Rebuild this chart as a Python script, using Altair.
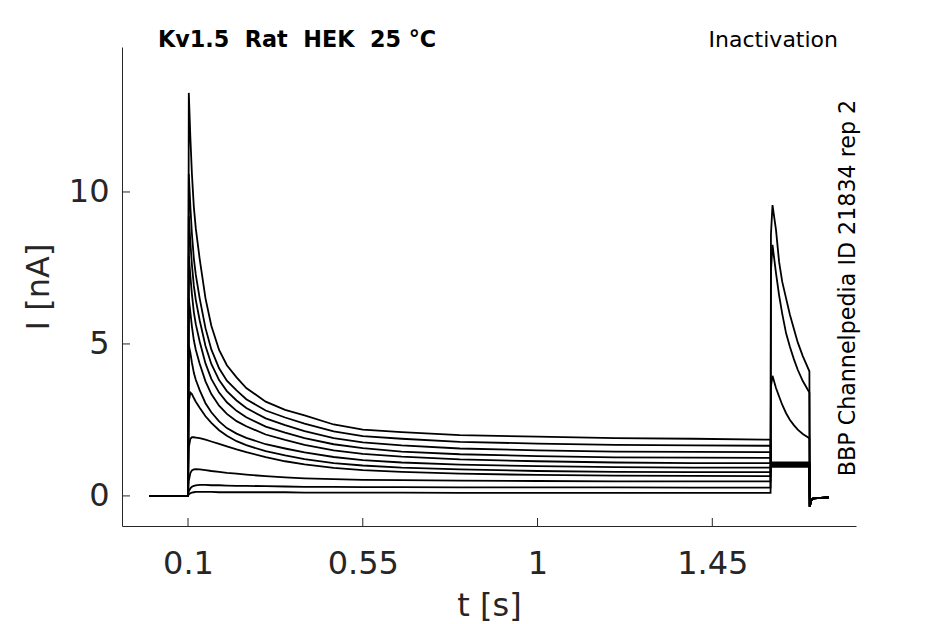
import altair as alt
import pandas as pd

# ---------------- data ----------------
trace_names = ["T0", "T1", "T2", "T3", "T4", "T5", "T6", "T7", "T8", "T9", "T10"]

t_base = [0.0, 0.1]
base_vals = [0.0, 0.0]

t_pulse1 = [0.102, 0.106, 0.11, 0.115, 0.12, 0.13, 0.145, 0.16, 0.18, 0.2, 0.225,
            0.25, 0.3, 0.35, 0.4, 0.475, 0.55, 0.65, 0.8, 1.0, 1.2, 1.4, 1.6]

pulse1 = {
    "T10": [13.26, 11.8, 10.6, 9.5, 8.8, 7.8, 6.5, 5.6, 4.8, 4.3, 3.9, 3.55, 3.1, 2.83, 2.65, 2.35, 2.18, 2.1, 2.0, 1.95, 1.9, 1.88, 1.85],
    "T9": [10.6, 9.53, 8.63, 7.81, 7.28, 6.5, 5.52, 4.82, 4.2, 3.79, 3.47, 3.18, 2.81, 2.58, 2.38, 2.12, 1.97, 1.88, 1.78, 1.72, 1.68, 1.66, 1.65],
    "T8": [9.2, 8.35, 7.61, 6.91, 6.45, 5.78, 4.93, 4.34, 3.81, 3.45, 3.14, 2.89, 2.55, 2.33, 2.13, 1.9, 1.76, 1.66, 1.56, 1.5, 1.46, 1.45, 1.44],
    "T7": [7.9, 7.24, 6.64, 6.04, 5.65, 5.08, 4.36, 3.85, 3.4, 3.08, 2.8, 2.59, 2.28, 2.08, 1.9, 1.7, 1.57, 1.46, 1.37, 1.31, 1.27, 1.26, 1.25],
    "T6": [6.5, 6.05, 5.58, 5.12, 4.81, 4.35, 3.77, 3.35, 2.97, 2.7, 2.46, 2.29, 2.02, 1.84, 1.68, 1.5, 1.38, 1.29, 1.2, 1.14, 1.1, 1.08, 1.08],
    "T5": [4.95, 4.71, 4.39, 4.05, 3.82, 3.48, 3.05, 2.75, 2.45, 2.23, 2.05, 1.91, 1.7, 1.56, 1.43, 1.28, 1.18, 1.1, 1.03, 0.98, 0.95, 0.93, 0.93],
    "T4": [3.1, 3.4, 3.35, 3.22, 3.1, 2.9, 2.62, 2.4, 2.16, 1.98, 1.8, 1.67, 1.47, 1.33, 1.21, 1.08, 1.0, 0.93, 0.87, 0.82, 0.79, 0.78, 0.78],
    "T3": [1.6, 1.88, 1.93, 1.93, 1.92, 1.9, 1.85, 1.79, 1.71, 1.63, 1.53, 1.44, 1.28, 1.14, 1.04, 0.92, 0.85, 0.79, 0.73, 0.69, 0.67, 0.66, 0.65],
    "T2": [0.5, 0.75, 0.84, 0.87, 0.88, 0.87, 0.85, 0.82, 0.79, 0.76, 0.73, 0.7, 0.65, 0.61, 0.58, 0.55, 0.53, 0.52, 0.5, 0.49, 0.48, 0.48, 0.48],
    "T1": [0.15, 0.25, 0.3, 0.33, 0.35, 0.36, 0.36, 0.35, 0.35, 0.34, 0.33, 0.33, 0.32, 0.31, 0.3, 0.3, 0.29, 0.29, 0.28, 0.28, 0.28, 0.27, 0.27],
    "T0": [0.05, 0.09, 0.11, 0.12, 0.13, 0.13, 0.13, 0.13, 0.12, 0.12, 0.12, 0.12, 0.12, 0.12, 0.11, 0.11, 0.11, 0.11, 0.1, 0.1, 0.1, 0.1, 0.1],
}

t_pulse2 = [1.601, 1.605, 1.614, 1.622, 1.63, 1.64, 1.65, 1.66, 1.67, 1.683, 1.7]

pulse2 = {
    "T0": [8.6, 9.57, 8.75, 7.7, 7.05, 6.5, 5.95, 5.5, 5.05, 4.6, 4.1],
    "T1": [7.4, 8.26, 7.33, 6.6, 6.0, 5.35, 4.9, 4.5, 4.15, 3.78, 3.4],
    "T2": [3.6, 3.95, 3.55, 3.27, 3.0, 2.72, 2.5, 2.33, 2.18, 2.04, 1.9],
    "T3": [1.1, 1.1, 1.1, 1.1, 1.1, 1.1, 1.1, 1.1, 1.1, 1.1, 1.1],
    "T4": [1.08, 1.08, 1.08, 1.08, 1.08, 1.08, 1.08, 1.08, 1.08, 1.08, 1.08],
    "T5": [1.06, 1.06, 1.06, 1.06, 1.06, 1.06, 1.06, 1.06, 1.06, 1.06, 1.06],
    "T6": [1.04, 1.04, 1.04, 1.04, 1.04, 1.04, 1.04, 1.04, 1.04, 1.04, 1.04],
    "T7": [1.02, 1.02, 1.02, 1.02, 1.02, 1.02, 1.02, 1.02, 1.02, 1.02, 1.02],
    "T8": [1.0, 1.0, 1.0, 1.0, 1.0, 1.0, 1.0, 1.0, 1.0, 1.0, 1.0],
    "T9": [0.98, 0.98, 0.98, 0.98, 0.98, 0.98, 0.98, 0.98, 0.98, 0.98, 0.98],
    "T10": [0.96, 0.96, 0.96, 0.96, 0.96, 0.96, 0.96, 0.96, 0.96, 0.96, 0.96],
}

t_tail = [1.701, 1.704, 1.71, 1.75]
tail_vals = [-0.36, -0.15, -0.08, -0.05]

x_ticks = [0.1, 0.55, 1, 1.45]
y_ticks = [0, 5, 10]

title_left = "Kv1.5\u00a0\u00a0Rat\u00a0\u00a0HEK\u00a0\u00a025\u00a0°C"
title_right = "Inactivation"
side_label = "BBP Channelpedia ID 21834 rep 2"

# ---------------- build table ----------------
rows = []
for name in trace_names:
    ts = t_base + t_pulse1 + t_pulse2 + t_tail
    vs = base_vals + pulse1[name] + pulse2[name] + tail_vals
    for i, (t, v) in enumerate(zip(ts, vs)):
        rows.append({"trace": name, "t": t, "I": v, "k": i})
df = pd.DataFrame(rows)

W, H = 734, 479
AX = "#262626"
FONT = "DejaVu Sans"

xs = alt.Scale(domain=[-0.07, 1.82], nice=False, zero=False)
ys = alt.Scale(domain=[-0.99, 14.77], nice=False, zero=False)

x_axis = alt.Axis(values=x_ticks, labelExpr="'' + datum.value", title="t [s]", labelPadding=22,
                  titleX=W / 2, titleY=89, titleBaseline="alphabetic", ticks=False)
y_axis = alt.Axis(values=y_ticks, labelExpr="'' + datum.value", title="I [nA]", labelPadding=13,
                  titleX=-74, titleY=H / 2, titleAngle=270, titleBaseline="alphabetic",
                  titleAlign="center", ticks=False)

lines = alt.Chart(df).mark_line(color="black", strokeWidth=1.8).encode(
    x=alt.X("t:Q", scale=xs, axis=x_axis),
    y=alt.Y("I:Q", scale=ys, axis=y_axis),
    detail="trace:N",
    order="k:Q",
)

ytick = alt.Chart(pd.DataFrame({"v": y_ticks})).mark_rule(color=AX, strokeWidth=1).encode(
    y=alt.Y("v:Q", scale=ys, axis=y_axis),
    x=alt.value(0), x2=alt.value(8),
)
xtick = alt.Chart(pd.DataFrame({"v": x_ticks})).mark_rule(color=AX, strokeWidth=1).encode(
    x=alt.X("v:Q", scale=xs, axis=x_axis),
    y=alt.value(H), y2=alt.value(H - 8),
)

txt_left = alt.Chart(pd.DataFrame({"s": [title_left]})).mark_text(
    font=FONT, fontSize=22.3, fontWeight="bold", align="left", baseline="alphabetic", color="black"
).encode(text="s:N", x=alt.value(36), y=alt.value(0))

txt_right = alt.Chart(pd.DataFrame({"s": [title_right]})).mark_text(
    font=FONT, fontSize=22, align="right", baseline="alphabetic", color="black"
).encode(text="s:N", x=alt.value(716), y=alt.value(0))

txt_side = alt.Chart(pd.DataFrame({"s": [side_label]})).mark_text(
    font=FONT, fontSize=22.2, align="center", baseline="alphabetic", angle=270, color="black"
).encode(text="s:N", x=alt.value(733), y=alt.value(241))

chart = alt.layer(lines, ytick, xtick, txt_left, txt_right, txt_side).properties(
    width=W, height=H,
    padding={"left": 114, "top": 39, "right": 81, "bottom": 100},
    autosize=alt.AutoSizeParams(type="none"),
).configure_view(stroke=None).configure_axis(
    grid=False, domainColor=AX, domainWidth=1, labelColor=AX, titleColor=AX,
    labelFont=FONT, titleFont=FONT, labelFontSize=32, titleFontSize=32,
    titleFontWeight="normal",
)

chart.save("out.html", embed_options={"renderer": "svg", "actions": False})
